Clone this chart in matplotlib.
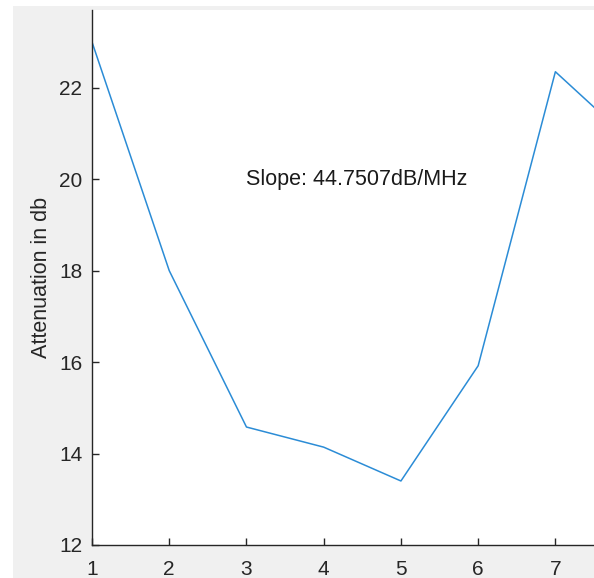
import matplotlib
matplotlib.use("Agg")
import matplotlib.pyplot as plt
from matplotlib.patches import Rectangle

x_vals = [1, 2, 3, 4, 5, 6, 7, 8]
attenuation = [23.0, 18.0, 14.58, 14.14, 13.4, 15.92, 22.35, 20.8]
x_ticks = [1, 2, 3, 4, 5, 6, 7]
y_ticks = [12, 14, 16, 18, 20, 22]
annotation = "Slope: 44.7507dB/MHz"
ylabel = "Attenuation in db"

plt.rcParams['font.family'] = ['Liberation Sans', 'DejaVu Sans']

W, H = 594, 578
fig = plt.figure(figsize=(W / 100, H / 100), dpi=100, facecolor='white')
fig.patches.append(Rectangle((13 / W, 0), 1 - 13 / W, 1 - 6 / H,
                             transform=fig.transFigure, facecolor='#f0f0f0',
                             edgecolor='none', zorder=-10))

left, right, bottom, top = 92, 594, 545, 10
ax = fig.add_axes([left / W, 1 - bottom / H, (right - left) / W, (bottom - top) / H])
ax.set_zorder(1)
ax.set_facecolor('white')
ax.plot(x_vals, attenuation, color='#2b8cd6', linewidth=1.1)
ax.set_xlim(1, 7.5)
ax.set_ylim(12, 23.7)
ax.set_xticks(x_ticks)
ax.set_yticks(y_ticks)
ax.spines['top'].set_visible(False)
ax.spines['right'].set_visible(False)
for s in ['left', 'bottom']:
    ax.spines[s].set_color('#262626')
    ax.spines[s].set_linewidth(1.0)
ax.tick_params(direction='in', length=5, width=1.0, colors='#262626',
               labelsize=15)
ax.tick_params(axis='x', pad=11)
ax.tick_params(axis='y', pad=7)
ax.set_ylabel(ylabel, fontsize=15.5, color='#262626', labelpad=5)
ax.text(3, 20, annotation, fontsize=15.5, color='#1a1a1a', ha='left', va='center')

fig.savefig('out.png', dpi=100, facecolor=fig.get_facecolor())
